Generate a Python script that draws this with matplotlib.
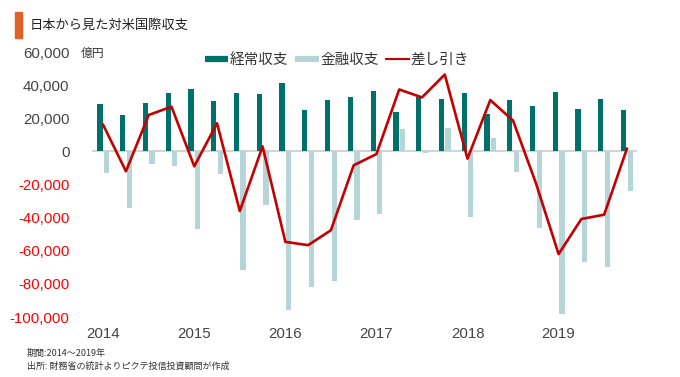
import numpy as np
import matplotlib.pyplot as plt
from matplotlib.patches import Rectangle
from matplotlib.lines import Line2D

''' DATA '''

years = ['2014', '2015', '2016', '2017', '2018', '2019']
quarters = [f'{y}Q{q}' for y in years for q in range(1, 5)]

# 経常収支 (current account), 億円
current = [28600, 21800, 29400, 35400, 37800, 30600, 35400, 34800,
           41000, 24800, 30800, 32800, 36200, 23600, 32800, 31600,
           35400, 22800, 31200, 27200, 35600, 25600, 31600, 25200]
# 金融収支 (financial account), 億円
financial = [-13000, -34000, -7600, -8600, -46800, -13600, -71600, -32200,
             -95600, -82000, -78400, -41600, -38000, 13600, -1200, 14400,
             -39600, 8200, -12400, -46000, -98000, -66800, -70000, -24000]
# 差し引き (balance), 億円
balance = [16000, -12000, 22000, 27000, -9000, 17000, -36000, 3000,
           -54600, -56600, -47600, -8400, -1600, 37400, 32600, 46400,
           -4400, 31000, 18600, -19000, -62000, -40800, -38200, 1600]

yticks = [60000, 40000, 20000, 0, -20000, -40000, -60000, -80000, -100000]

''' STYLE '''

num_font = ['Liberation Sans', 'DejaVu Sans']
jp_font = ['Noto Sans CJK JP', 'DejaVu Sans']
plt.rcParams['font.family'] = jp_font

c_dark = '#00716a'
c_light = '#b5d5d8'
c_red = '#c40000'

''' PLOTTING '''

fig = plt.figure(figsize=(6.8, 3.77), dpi=100)
ax = fig.add_axes([0.135, 0.159, 0.802, 0.703])

x = np.arange(len(quarters))
w = 0.23
ax.bar(x - 0.145, current, width=w, color=c_dark, zorder=2)
ax.bar(x + 0.145, financial, width=w, color=c_light, zorder=2)
ax.plot(x, balance, color=c_red, lw=1.9, zorder=3)
ax.axhline(0, color='#cccccc', lw=1.2, zorder=1)

ax.set_xlim(-0.5, 23.45)
ax.set_ylim(-100000, 60000)
for s in ax.spines.values():
    s.set_visible(False)

ax.set_xticks(x[::4])
ax.set_xticklabels(years, family=num_font, fontsize=10.8, color='#444444')
ax.set_yticks(yticks)
ax.set_yticklabels([f'{v:,}' for v in yticks], family=num_font, fontsize=10.8)
for lab, v in zip(ax.get_yticklabels(), yticks):
    lab.set_color('#ff0000' if v < 0 else '#444444')
ax.tick_params(axis='both', length=0)
ax.tick_params(axis='y', pad=16)
ax.tick_params(axis='x', pad=7)

# unit label
fig.text(81 / 680, 1 - 53 / 377, '億円', fontsize=8.5, color='#333333', va='center')

# legend
handles = [Line2D([], [], color=c_dark, lw=4.5, solid_capstyle='butt'),
           Line2D([], [], color=c_light, lw=4.5, solid_capstyle='butt'),
           Line2D([], [], color=c_red, lw=1.5)]
fig.legend(handles, ['経常収支', '金融収支', '差し引き'], loc='center',
           bbox_to_anchor=(337 / 680, 1 - 60 / 377), ncol=3, frameon=False,
           fontsize=10.5, handlelength=1.6, handletextpad=0.1, columnspacing=0.5,
           labelcolor='#333333')

# title
fig.patches.append(Rectangle((15 / 680, 1 - 38 / 377), 7 / 680, 26 / 377,
                             transform=fig.transFigure, color='#e0622a'))
fig.text(30 / 680, 1 - 25 / 377, '日本から見た対米国際収支', fontsize=9.5,
         color='#222222', va='center')

# footnotes
fig.text(27 / 680, 1 - 353 / 377, '期間:2014～2019年', fontsize=6.5,
         color='#333333', va='center')
fig.text(27 / 680, 1 - 366 / 377, '出所: 財務省の統計よりピクテ投信投資顧問が作成',
         fontsize=6.5, color='#333333', va='center')

fig.savefig('out.png', dpi=100)
